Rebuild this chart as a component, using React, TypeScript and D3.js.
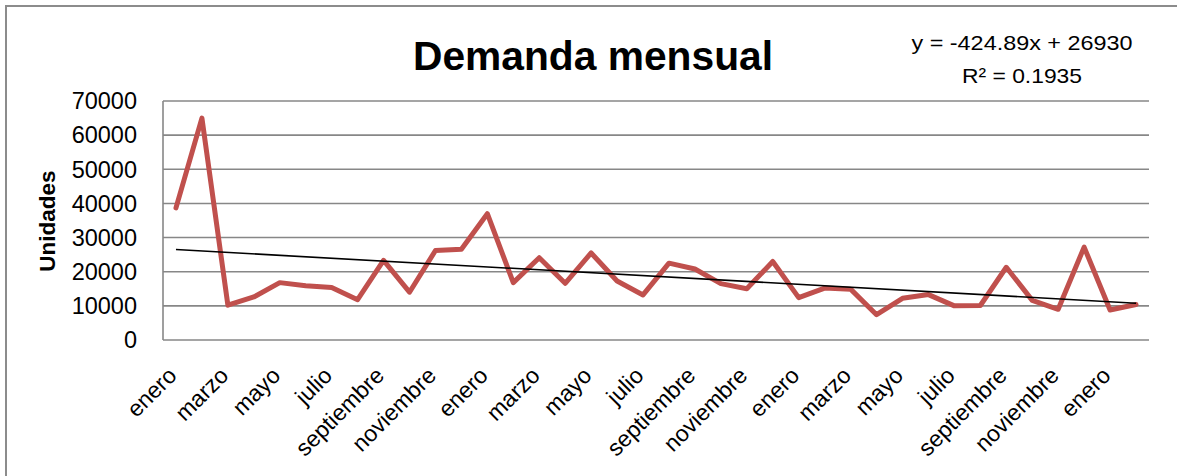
import React from "react";
import * as d3 from "d3";

const monthNames = ["enero","febrero","marzo","abril","mayo","junio","julio","agosto","septiembre","octubre","noviembre","diciembre"];
const categories: string[] = Array.from({ length: 38 }, (_, i) => monthNames[i % 12]);
const demanda = [
  38700, 65000, 10200, 12600, 16800, 15900, 15400, 11800, 23300, 14000, 26200, 26600,
  37000, 16800, 24100, 16600, 25500, 17300, 13200, 22500, 20800, 16500, 15000, 23000,
  12400, 15200, 14900, 7400, 12200, 13300, 10000, 10100, 21300, 11600, 9000, 27200,
  8800, 10400,
];
const yTicks = [0, 10000, 20000, 30000, 40000, 50000, 60000, 70000];
const trendSlope = -424.89;
const trendIntercept = 26930;
const title = "Demanda mensual";
const yTitle = "Unidades";
const eqText = "y = -424.89x + 26930";
const r2Text = "R² = 0.1935";

const W = 1177, H = 476;
const left = 163, right = 1149, top = 101, bottom = 340;
const FONT = "'Liberation Sans', Arial, sans-serif";

export default function App() {
  const x = d3.scaleBand<number>().domain(d3.range(categories.length)).range([left, right]).padding(0);
  const cx = (i: number) => (x(i) as number) + x.bandwidth() / 2;
  const y = d3.scaleLinear().domain([0, 70000]).range([bottom, top]);
  const line = d3.line<number>().x((_, i) => cx(i)).y((d) => y(d));
  const trendPts = [1, categories.length].map((k) => [cx(k - 1), y(trendSlope * k + trendIntercept)] as [number, number]);
  const trendLine = d3.line()(trendPts) as string;
  const grid = "#878787";

  return (
    <svg width={W} height={H} style={{ position: "absolute", left: 0, top: 0, background: "#fff" }} fontFamily={FONT}>
      <rect x={0} y={0} width={W} height={H} fill="#fff" />
      <rect x={6} y={6} width={1300} height={600} fill="none" stroke="#8c8c8c" strokeWidth={2} />
      <text x={593} y={70} textAnchor="middle" fontWeight="bold" fontSize={40} textLength={360} lengthAdjust="spacingAndGlyphs">{title}</text>
      <text x={1022} y={50} textAnchor="middle" fontSize={21} textLength={221} lengthAdjust="spacingAndGlyphs">{eqText}</text>
      <text x={1022} y={83} textAnchor="middle" fontSize={21} textLength={120} lengthAdjust="spacingAndGlyphs">{r2Text}</text>
      {yTicks.map((t) => (
        <g key={t}>
          <line x1={left} x2={right} y1={y(t)} y2={y(t)} stroke={grid} strokeWidth={1.6} />
          <text x={137} y={y(t)} dy="0.35em" textAnchor="end" fontSize={23.5}>{t}</text>
        </g>
      ))}
      <line x1={left} x2={left} y1={top} y2={bottom} stroke={grid} strokeWidth={1.6} />
      <text transform={`translate(47,221) rotate(-90)`} textAnchor="middle" dy="0.35em" fontWeight="bold" fontSize={22.5}>{yTitle}</text>
      {categories.map((c, i) => i % 2 === 0 ? (
        <text key={i} transform={`translate(${cx(i) + 2},377) rotate(-45)`} textAnchor="end" fontSize={23}>{c}</text>
      ) : null)}
      <path d={line(demanda) as string} fill="none" stroke="#c0504d" strokeWidth={5} strokeLinejoin="round" strokeLinecap="round" />
      <path d={trendLine} fill="none" stroke="#000" strokeWidth={1.6} />
    </svg>
  );
}
